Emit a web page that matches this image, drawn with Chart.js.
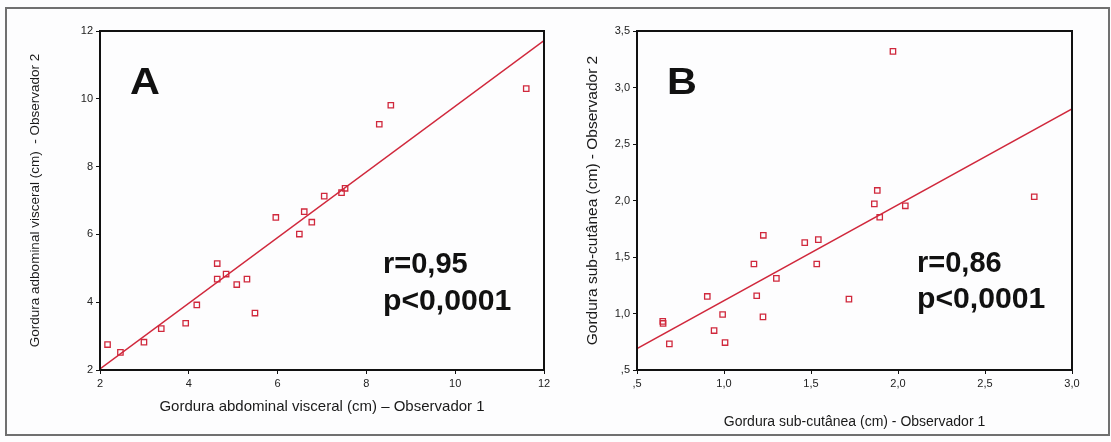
<!DOCTYPE html>
<html><head><meta charset="utf-8">
<script src="https://cdn.jsdelivr.net/npm/chart.js@4.4.1/dist/chart.umd.min.js"></script>
<style>
html,body{margin:0;padding:0;background:#fff;}
#wrap{position:relative;width:1111px;height:442px;background:#fdfdfe;overflow:hidden;}
#frame{position:absolute;left:5px;top:7px;width:1101px;height:425px;border:2px solid #707070;}
#cA{position:absolute;left:0;top:0;}
#cB{position:absolute;left:555px;top:0;}
</style></head>
<body><div id="wrap"><div id="frame"></div><canvas id="cA" width="555" height="442"></canvas><canvas id="cB" width="556" height="442"></canvas></div>
<script>
// ---- Panel A: Gordura abdominal visceral ----
const obs1A = [2.17,2.46,2.99,3.38,3.93,4.18,4.64,4.64,4.84,5.08,5.31,5.49,5.96,6.49,6.60,6.77,7.05,7.44,7.52,8.29,8.55,11.60];
const obs2A = [2.75,2.52,2.82,3.22,3.38,3.92,5.14,4.68,4.83,4.52,4.68,3.68,6.50,6.01,6.67,6.36,7.13,7.23,7.36,9.25,9.81,10.30];
const fitAx = [2, 12];
const fitAy = [2.03, 11.72];
const ticksA = [2, 4, 6, 8, 10, 12];
const tickLabelsA = ['2', '4', '6', '8', '10', '12'];

// ---- Panel B: Gordura sub-cutânea ----
const obs1B = [0.648,0.650,0.686,0.904,0.943,0.992,1.006,1.172,1.188,1.226,1.224,1.301,1.464,1.542,1.533,1.718,1.864,1.881,1.895,1.971,2.042,2.783];
const obs2B = [0.930,0.912,0.731,1.151,0.849,0.991,0.743,1.438,1.157,1.692,0.970,1.311,1.627,1.654,1.438,1.127,1.970,2.089,1.852,3.320,1.953,2.033];
const fitBx = [0.5, 3.0];
const fitBy = [0.69, 2.81];
const ticksBx = [0.5, 1.0, 1.5, 2.0, 2.5, 3.0];
const tickLabelsBx = [',5', '1,0', '1,5', '2,0', '2,5', '3,0'];
const ticksBy = [0.5, 1.0, 1.5, 2.0, 2.5, 3.0, 3.5];
const tickLabelsBy = [',5', '1,0', '1,5', '2,0', '2,5', '3,0', '3,5'];

const titleAx = 'Gordura abdominal visceral (cm) – Observador 1';
const titleAy = 'Gordura adbominal visceral (cm)  - Observador 2';
const titleBx = 'Gordura sub-cutânea (cm) - Observador 1';
const titleBy = 'Gordura sub-cutânea (cm) - Observador 2';

const FONT = "'Liberation Sans', Arial, Helvetica, sans-serif";
const RED = '#d0283c';

const pts = (xs, ys) => xs.map((x, i) => ({x: x, y: ys[i]}));

const panelPlugin = {
  id: 'panel',
  afterDraw(chart, args, opts) {
    const {ctx, chartArea: a} = chart;
    ctx.save();
    ctx.strokeStyle = '#111';
    ctx.lineWidth = 2;
    ctx.strokeRect(a.left, a.top, a.right - a.left, a.bottom - a.top);
    ctx.fillStyle = '#111';
    ctx.textBaseline = 'alphabetic';
    ctx.textAlign = 'left';
    (opts.texts || []).forEach(t => {
      ctx.save();
      ctx.font = t.font;
      ctx.translate(a.left + t.dx, a.top + t.dy);
      ctx.scale(t.sx, 1);
      ctx.fillText(t.text, 0, 0);
      ctx.restore();
    });
    ctx.restore();
  }
};

function axis(pos, min, max, ticks, labels, title, titleSize, titlePad, size) {
  return {
    type: 'linear', position: pos, min: min, max: max,
    afterBuildTicks: s => { s.ticks = ticks.map(v => ({value: v})); },
    afterFit: s => { if (pos === 'bottom') s.height = size; else s.width = size; },
    grid: {display: true, drawOnChartArea: false, drawTicks: true, tickLength: 4, color: '#111', lineWidth: 1},
    border: {display: false},
    ticks: {padding: 3, color: '#222', font: {family: FONT, size: 11}, autoSkip: false, maxRotation: 0,
            callback: (v, i) => labels[i]},
    title: {display: true, text: title, color: '#1a1a1a', font: {family: FONT, size: titleSize}, padding: titlePad}
  };
}

function makeChart(id, xs, ys, fx, fy, scales, padRight, texts) {
  return new Chart(document.getElementById(id), {
    type: 'scatter',
    data: {
      datasets: [
        {data: pts(xs, ys), pointStyle: 'rect', pointRadius: 3.8, pointBorderWidth: 1.3,
         borderColor: RED, backgroundColor: 'rgba(255,255,255,0)', pointHoverRadius: 3.8},
        {data: pts(fx, fy), type: 'line', showLine: true, pointRadius: 0, borderColor: RED,
         borderWidth: 1.5, fill: false, tension: 0}
      ]
    },
    options: {
      responsive: false, animation: false, devicePixelRatio: 1,
      layout: {padding: {left: 0, right: padRight, top: 31, bottom: 0}},
      scales: scales,
      plugins: {legend: {display: false}, tooltip: {enabled: false},
                panel: {texts: texts}}
    },
    plugins: [panelPlugin]
  });
}

makeChart('cA', obs1A, obs2A, fitAx, fitAy, {
  x: axis('bottom', 2, 12, ticksA, tickLabelsA, titleAx, 15, {top: 0, bottom: 26}, 72),
  y: axis('left', 2, 12, ticksA, tickLabelsA, titleAy, 13.5, {top: 26.9, bottom: 0}, 100)
}, 11, [
  {text: 'A', font: 'bold 36px ' + FONT, dx: 30, dy: 63, sx: 1.15},
  {text: 'r=0,95', font: 'bold 29px ' + FONT, dx: 283, dy: 242, sx: 1.0},
  {text: 'p<0,0001', font: 'bold 29px ' + FONT, dx: 283, dy: 279, sx: 1.04}
]);

makeChart('cB', obs1B, obs2B, fitBx, fitBy, {
  x: axis('bottom', 0.5, 3.0, ticksBx, tickLabelsBx, titleBx, 14, {top: 0, bottom: 11.5}, 72),
  y: axis('left', 0.5, 3.5, ticksBy, tickLabelsBy, titleBy, 15.5, {top: 28.7, bottom: 0}, 82)
}, 39, [
  {text: 'B', font: 'bold 36px ' + FONT, dx: 30, dy: 63, sx: 1.15},
  {text: 'r=0,86', font: 'bold 29px ' + FONT, dx: 280, dy: 241, sx: 1.0},
  {text: 'p<0,0001', font: 'bold 29px ' + FONT, dx: 280, dy: 277, sx: 1.04}
]);
</script>
</body></html>
